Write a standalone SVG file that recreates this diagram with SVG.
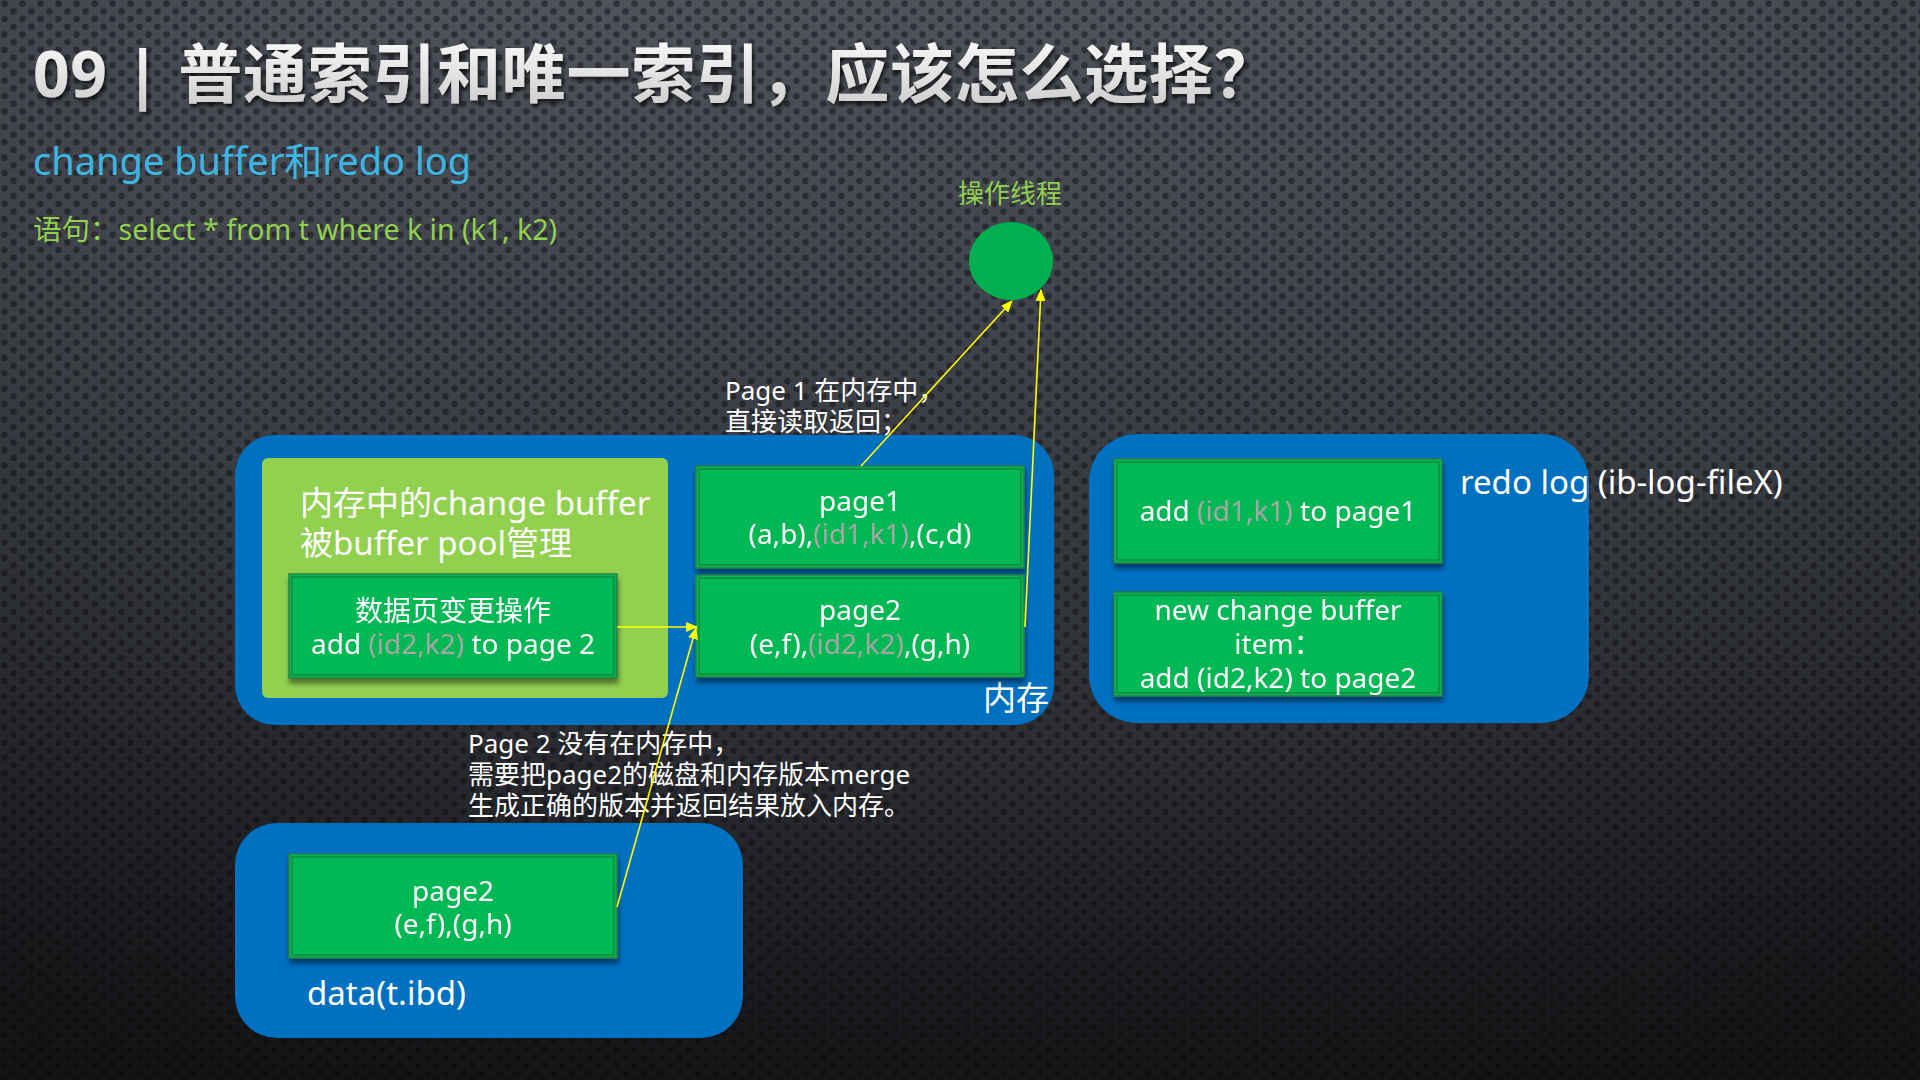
<svg xmlns="http://www.w3.org/2000/svg" width="1920" height="1080" viewBox="0 0 1920 1080">
  <defs>
    <linearGradient id="bgGrad" x1="0" y1="0" x2="0" y2="1">
      <stop offset="0" stop-color="#4e525b"/>
      <stop offset="0.45" stop-color="#383b42"/>
      <stop offset="1" stop-color="#1b1c1f"/>
    </linearGradient>
    <radialGradient id="vignette" cx="0.5" cy="0.3" r="0.8">
      <stop offset="0.5" stop-color="#000" stop-opacity="0"/>
      <stop offset="1" stop-color="#000" stop-opacity="0.35"/>
    </radialGradient>
    <pattern id="dots" width="18" height="15.4" patternUnits="userSpaceOnUse">
      <circle cx="4.5" cy="4.6" r="3.4" fill="#ffffff" fill-opacity="0.05"/>
      <circle cx="4.5" cy="3.85" r="3.3" fill="#000" fill-opacity="0.45"/>
      <circle cx="13.5" cy="12.3" r="3.4" fill="#ffffff" fill-opacity="0.05"/>
      <circle cx="13.5" cy="11.55" r="3.3" fill="#000" fill-opacity="0.45"/>
    </pattern>
    <linearGradient id="titleGrad" x1="0" y1="0" x2="0" y2="1">
      <stop offset="0" stop-color="#ffffff"/>
      <stop offset="1" stop-color="#c8c8c8"/>
    </linearGradient>
    <filter id="titleShadow" x="-5%" y="-30%" width="110%" height="160%">
      <feDropShadow dx="2" dy="3" stdDeviation="2" flood-color="#000" flood-opacity="0.7"/>
    </filter>
    <filter id="boxShadow" x="-10%" y="-10%" width="120%" height="130%">
      <feDropShadow dx="1" dy="5" stdDeviation="2.5" flood-color="#000" flood-opacity="0.45"/>
    </filter>
    <marker id="arrow" viewBox="0 0 12 10" refX="11" refY="5" markerWidth="12" markerHeight="10" markerUnits="userSpaceOnUse" orient="auto">
      <path d="M0,0 L12,5 L0,10 z" fill="#ffff00"/>
    </marker>
    <style>
      text { font-family: "Noto Sans", "Noto Sans CJK SC", sans-serif; }
      .title { font-size: 64px; font-weight: bold; fill: url(#titleGrad); letter-spacing: 0.7px; }
      .sub { font-size: 38px; fill: #3cb7e4; }
      .green { fill: #92d050; }
      .white { fill: #ffffff; }
      .grey { fill: #a6a6a6; }
      .box { fill: #06b954; stroke: #2f7d48; stroke-width: 1.5; }
      .inner { fill: none; stroke: #0b8a3e; stroke-width: 1.5; }
      .blue { fill: #0070c0; }
      .lbl { font-size: 33px; fill: #ffffff; }
      .btxt { font-size: 28px; fill: #ffffff; text-anchor: middle; }
      .note { font-size: 26px; fill: #ffffff; }
      .link { stroke: #ffff00; stroke-width: 1.6; fill: none; marker-end: url(#arrow); }
    </style>
  </defs>

  <!-- perforated metal backdrop -->
  <rect width="1920" height="1080" fill="url(#bgGrad)"/>
  <rect width="1920" height="1080" fill="url(#dots)"/>
  <rect width="1920" height="1080" fill="url(#vignette)"/>

  <!-- headings -->
  <g id="headings">
    <text class="title" x="33" y="97" filter="url(#titleShadow)">09 | 普通索引和唯一索引，应该怎么选择？</text>
    <text class="sub" x="33" y="175">change buffer和redo log</text>
    <text class="green" x="33" y="240" font-size="28.5">语句：select * from t where k in (k1, k2)</text>
  </g>

  <!-- worker thread -->
  <g id="thread">
    <text class="green" x="1010" y="203" font-size="26" text-anchor="middle">操作线程</text>
    <ellipse cx="1011" cy="261" rx="42" ry="39" fill="#00b050"/>
  </g>

  <!-- memory area -->
  <g id="memory">
    <rect class="blue" x="235" y="435" width="819" height="290" rx="40"/>
    <text class="lbl" x="983" y="710">内存</text>
  </g>

  <g id="change-buffer">
    <rect x="262" y="458" width="406" height="240" rx="6" fill="#92d050"/>
    <text class="lbl" x="300" y="515" font-size="32">内存中的change buffer<tspan x="300" y="555">被buffer pool管理</tspan></text>
  </g>

  <g id="change-op" filter="url(#boxShadow)">
    <rect class="box" x="289" y="574" width="328" height="104"/>
    <rect class="inner" x="292" y="577" width="322" height="98"/>
    <text class="btxt" x="453" y="621">数据页变更操作<tspan x="453" y="654">add <tspan class="grey">(id2,k2)</tspan> to page 2</tspan></text>
  </g>

  <g id="mem-page1" filter="url(#boxShadow)">
    <rect class="box" x="696" y="466" width="328" height="102"/>
    <rect class="inner" x="699" y="469" width="322" height="96"/>
    <text class="btxt" x="860" y="511">page1<tspan x="860" y="544">(a,b),<tspan class="grey">(id1,k1)</tspan>,(c,d)</tspan></text>
  </g>

  <g id="mem-page2" filter="url(#boxShadow)">
    <rect class="box" x="696" y="575" width="328" height="102"/>
    <rect class="inner" x="699" y="578" width="322" height="96"/>
    <text class="btxt" x="860" y="620">page2<tspan x="860" y="654">(e,f),<tspan class="grey">(id2,k2)</tspan>,(g,h)</tspan></text>
  </g>

  <!-- redo log area -->
  <g id="redo-log">
    <rect class="blue" x="1089" y="434" width="500" height="289" rx="48"/>
    <text class="lbl" x="1460" y="494">redo log (ib-log-fileX)</text>
  </g>

  <g id="redo-item1" filter="url(#boxShadow)">
    <rect class="box" x="1114" y="459" width="328" height="104"/>
    <rect class="inner" x="1117" y="462" width="322" height="98"/>
    <text class="btxt" x="1278" y="521">add <tspan class="grey">(id1,k1)</tspan> to page1</text>
  </g>

  <g id="redo-item2" filter="url(#boxShadow)">
    <rect class="box" x="1114" y="592" width="328" height="104"/>
    <rect class="inner" x="1117" y="595" width="322" height="98"/>
    <text class="btxt" x="1278" y="620">new change buffer<tspan x="1278" y="654">item：</tspan><tspan x="1278" y="688">add (id2,k2) to page2</tspan></text>
  </g>

  <!-- data file on disk -->
  <g id="data-file">
    <rect class="blue" x="235" y="823" width="508" height="215" rx="42"/>
    <text class="lbl" x="307" y="1005">data(t.ibd)</text>
  </g>

  <g id="disk-page2" filter="url(#boxShadow)">
    <rect class="box" x="289" y="854" width="328" height="104"/>
    <rect class="inner" x="292" y="857" width="322" height="98"/>
    <text class="btxt" x="453" y="901">page2<tspan x="453" y="934">(e,f),(g,h)</tspan></text>
  </g>

  <!-- annotations -->
  <g id="notes">
    <text class="note" x="725" y="400">Page 1 在内存中，<tspan x="725" y="431">直接读取返回；</tspan></text>
    <text class="note" x="468" y="753">Page 2 没有在内存中，<tspan x="468" y="784">需要把page2的磁盘和内存版本merge</tspan><tspan x="468" y="815">生成正确的版本并返回结果放入内存。</tspan></text>
  </g>

  <!-- connectors -->
  <g id="connectors">
    <line class="link" x1="861" y1="466" x2="1012" y2="301"/>
    <line class="link" x1="1025" y1="627" x2="1041" y2="290"/>
    <line class="link" x1="617" y1="627" x2="697" y2="627"/>
    <line class="link" x1="617" y1="907" x2="696" y2="628"/>
  </g>
</svg>
